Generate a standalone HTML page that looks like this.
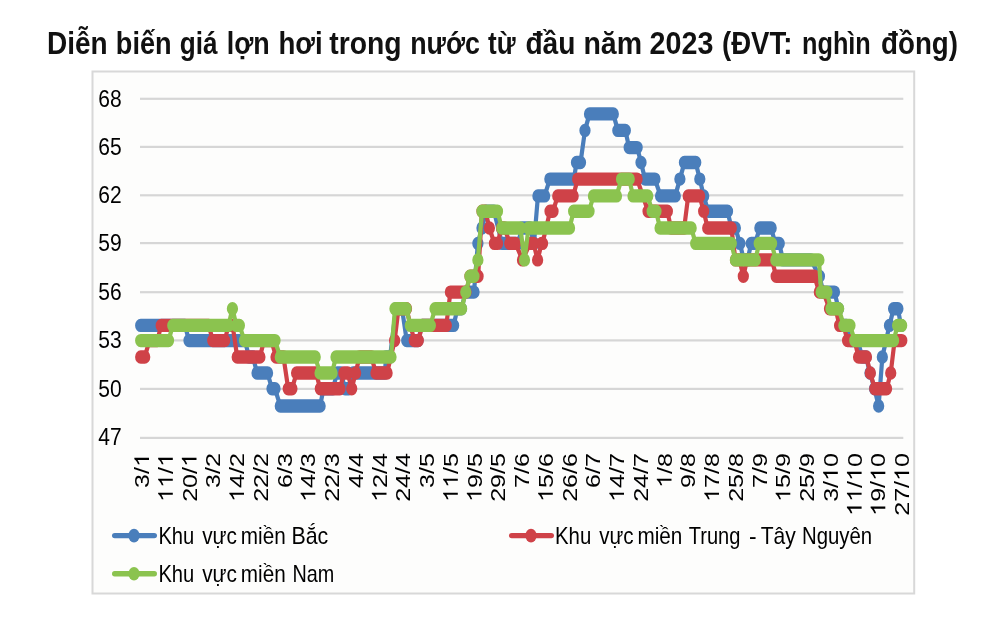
<!DOCTYPE html>
<html lang="vi"><head><meta charset="utf-8"><title>Diễn biến giá lợn hơi</title>
<style>
html,body{margin:0;padding:0;background:#fff;}
body{width:1000px;height:618px;overflow:hidden;font-family:"Liberation Sans",sans-serif;}
svg{display:block;will-change:transform;}
svg text{font-family:"Liberation Sans",sans-serif;}
</style></head><body>
<svg width="1000" height="618" viewBox="0 0 1000 618">
<rect x="92.5" y="71.5" width="821.7" height="522" fill="#fdfdfc" stroke="#d8d8d8" stroke-width="2"/>
<rect x="140" y="436.8" width="763.3" height="2.2" fill="#d6d6d6"/>
<rect x="140" y="387.8" width="763.3" height="2.2" fill="#d6d6d6"/>
<rect x="140" y="339.3" width="763.3" height="2.2" fill="#d6d6d6"/>
<rect x="140" y="291.1" width="763.3" height="2.2" fill="#d6d6d6"/>
<rect x="140" y="242.0" width="763.3" height="2.2" fill="#d6d6d6"/>
<rect x="140" y="194.2" width="763.3" height="2.2" fill="#d6d6d6"/>
<rect x="140" y="145.8" width="763.3" height="2.2" fill="#d6d6d6"/>
<rect x="140" y="97.7" width="763.3" height="2.2" fill="#d6d6d6"/>
<text x="98.2" y="445.3" font-size="24.7" font-weight="normal" text-anchor="start" fill="#000" textLength="23.4" lengthAdjust="spacingAndGlyphs">47</text>
<text x="98.2" y="396.9" font-size="24.7" font-weight="normal" text-anchor="start" fill="#000" textLength="23.4" lengthAdjust="spacingAndGlyphs">50</text>
<text x="98.2" y="348.4" font-size="24.7" font-weight="normal" text-anchor="start" fill="#000" textLength="23.4" lengthAdjust="spacingAndGlyphs">53</text>
<text x="98.2" y="300.2" font-size="24.7" font-weight="normal" text-anchor="start" fill="#000" textLength="23.4" lengthAdjust="spacingAndGlyphs">56</text>
<text x="98.2" y="251.1" font-size="24.7" font-weight="normal" text-anchor="start" fill="#000" textLength="23.4" lengthAdjust="spacingAndGlyphs">59</text>
<text x="98.2" y="203.3" font-size="24.7" font-weight="normal" text-anchor="start" fill="#000" textLength="23.4" lengthAdjust="spacingAndGlyphs">62</text>
<text x="98.2" y="154.9" font-size="24.7" font-weight="normal" text-anchor="start" fill="#000" textLength="23.4" lengthAdjust="spacingAndGlyphs">65</text>
<text x="98.2" y="106.8" font-size="24.7" font-weight="normal" text-anchor="start" fill="#000" textLength="23.4" lengthAdjust="spacingAndGlyphs">68</text>
<g transform="translate(149.0,453.0) rotate(-90) scale(1.213,1)" fill="#000"><text x="-28.77" y="0" font-size="20.7">3</text><text x="-17.26" y="0" font-size="20.7">/</text><path d="M763 0H583V1147Q518 1085 412.5 1023T223 930V1104Q373 1175 485.5 1276T645 1472H763Z" transform="translate(-11.51,0) scale(0.00996,-0.00996)"/></g>
<g transform="translate(172.8,453.0) rotate(-90) scale(1.213,1)" fill="#000"><path d="M763 0H583V1147Q518 1085 412.5 1023T223 930V1104Q373 1175 485.5 1276T645 1472H763Z" transform="translate(-40.28,0) scale(0.00996,-0.00996)"/><path d="M763 0H583V1147Q518 1085 412.5 1023T223 930V1104Q373 1175 485.5 1276T645 1472H763Z" transform="translate(-28.77,0) scale(0.00996,-0.00996)"/><text x="-17.26" y="0" font-size="20.7">/</text><path d="M763 0H583V1147Q518 1085 412.5 1023T223 930V1104Q373 1175 485.5 1276T645 1472H763Z" transform="translate(-11.51,0) scale(0.00996,-0.00996)"/></g>
<g transform="translate(196.5,453.0) rotate(-90) scale(1.213,1)" fill="#000"><text x="-40.28" y="0" font-size="20.7">2</text><text x="-28.77" y="0" font-size="20.7">0</text><text x="-17.26" y="0" font-size="20.7">/</text><path d="M763 0H583V1147Q518 1085 412.5 1023T223 930V1104Q373 1175 485.5 1276T645 1472H763Z" transform="translate(-11.51,0) scale(0.00996,-0.00996)"/></g>
<g transform="translate(220.3,453.0) rotate(-90) scale(1.213,1)" fill="#000"><text x="-28.77" y="0" font-size="20.7">3</text><text x="-17.26" y="0" font-size="20.7">/</text><text x="-11.51" y="0" font-size="20.7">2</text></g>
<g transform="translate(244.0,453.0) rotate(-90) scale(1.213,1)" fill="#000"><path d="M763 0H583V1147Q518 1085 412.5 1023T223 930V1104Q373 1175 485.5 1276T645 1472H763Z" transform="translate(-40.28,0) scale(0.00996,-0.00996)"/><text x="-28.77" y="0" font-size="20.7">4</text><text x="-17.26" y="0" font-size="20.7">/</text><text x="-11.51" y="0" font-size="20.7">2</text></g>
<g transform="translate(267.8,453.0) rotate(-90) scale(1.213,1)" fill="#000"><text x="-40.28" y="0" font-size="20.7">2</text><text x="-28.77" y="0" font-size="20.7">2</text><text x="-17.26" y="0" font-size="20.7">/</text><text x="-11.51" y="0" font-size="20.7">2</text></g>
<g transform="translate(291.5,453.0) rotate(-90) scale(1.213,1)" fill="#000"><text x="-28.77" y="0" font-size="20.7">6</text><text x="-17.26" y="0" font-size="20.7">/</text><text x="-11.51" y="0" font-size="20.7">3</text></g>
<g transform="translate(315.3,453.0) rotate(-90) scale(1.213,1)" fill="#000"><path d="M763 0H583V1147Q518 1085 412.5 1023T223 930V1104Q373 1175 485.5 1276T645 1472H763Z" transform="translate(-40.28,0) scale(0.00996,-0.00996)"/><text x="-28.77" y="0" font-size="20.7">4</text><text x="-17.26" y="0" font-size="20.7">/</text><text x="-11.51" y="0" font-size="20.7">3</text></g>
<g transform="translate(339.0,453.0) rotate(-90) scale(1.213,1)" fill="#000"><text x="-40.28" y="0" font-size="20.7">2</text><text x="-28.77" y="0" font-size="20.7">2</text><text x="-17.26" y="0" font-size="20.7">/</text><text x="-11.51" y="0" font-size="20.7">3</text></g>
<g transform="translate(362.8,453.0) rotate(-90) scale(1.213,1)" fill="#000"><text x="-28.77" y="0" font-size="20.7">4</text><text x="-17.26" y="0" font-size="20.7">/</text><text x="-11.51" y="0" font-size="20.7">4</text></g>
<g transform="translate(386.5,453.0) rotate(-90) scale(1.213,1)" fill="#000"><path d="M763 0H583V1147Q518 1085 412.5 1023T223 930V1104Q373 1175 485.5 1276T645 1472H763Z" transform="translate(-40.28,0) scale(0.00996,-0.00996)"/><text x="-28.77" y="0" font-size="20.7">2</text><text x="-17.26" y="0" font-size="20.7">/</text><text x="-11.51" y="0" font-size="20.7">4</text></g>
<g transform="translate(410.3,453.0) rotate(-90) scale(1.213,1)" fill="#000"><text x="-40.28" y="0" font-size="20.7">2</text><text x="-28.77" y="0" font-size="20.7">4</text><text x="-17.26" y="0" font-size="20.7">/</text><text x="-11.51" y="0" font-size="20.7">4</text></g>
<g transform="translate(434.0,453.0) rotate(-90) scale(1.213,1)" fill="#000"><text x="-28.77" y="0" font-size="20.7">3</text><text x="-17.26" y="0" font-size="20.7">/</text><text x="-11.51" y="0" font-size="20.7">5</text></g>
<g transform="translate(457.8,453.0) rotate(-90) scale(1.213,1)" fill="#000"><path d="M763 0H583V1147Q518 1085 412.5 1023T223 930V1104Q373 1175 485.5 1276T645 1472H763Z" transform="translate(-40.28,0) scale(0.00996,-0.00996)"/><path d="M763 0H583V1147Q518 1085 412.5 1023T223 930V1104Q373 1175 485.5 1276T645 1472H763Z" transform="translate(-28.77,0) scale(0.00996,-0.00996)"/><text x="-17.26" y="0" font-size="20.7">/</text><text x="-11.51" y="0" font-size="20.7">5</text></g>
<g transform="translate(481.5,453.0) rotate(-90) scale(1.213,1)" fill="#000"><path d="M763 0H583V1147Q518 1085 412.5 1023T223 930V1104Q373 1175 485.5 1276T645 1472H763Z" transform="translate(-40.28,0) scale(0.00996,-0.00996)"/><text x="-28.77" y="0" font-size="20.7">9</text><text x="-17.26" y="0" font-size="20.7">/</text><text x="-11.51" y="0" font-size="20.7">5</text></g>
<g transform="translate(505.3,453.0) rotate(-90) scale(1.213,1)" fill="#000"><text x="-40.28" y="0" font-size="20.7">2</text><text x="-28.77" y="0" font-size="20.7">9</text><text x="-17.26" y="0" font-size="20.7">/</text><text x="-11.51" y="0" font-size="20.7">5</text></g>
<g transform="translate(529.0,453.0) rotate(-90) scale(1.213,1)" fill="#000"><text x="-28.77" y="0" font-size="20.7">7</text><text x="-17.26" y="0" font-size="20.7">/</text><text x="-11.51" y="0" font-size="20.7">6</text></g>
<g transform="translate(552.8,453.0) rotate(-90) scale(1.213,1)" fill="#000"><path d="M763 0H583V1147Q518 1085 412.5 1023T223 930V1104Q373 1175 485.5 1276T645 1472H763Z" transform="translate(-40.28,0) scale(0.00996,-0.00996)"/><text x="-28.77" y="0" font-size="20.7">5</text><text x="-17.26" y="0" font-size="20.7">/</text><text x="-11.51" y="0" font-size="20.7">6</text></g>
<g transform="translate(576.5,453.0) rotate(-90) scale(1.213,1)" fill="#000"><text x="-40.28" y="0" font-size="20.7">2</text><text x="-28.77" y="0" font-size="20.7">6</text><text x="-17.26" y="0" font-size="20.7">/</text><text x="-11.51" y="0" font-size="20.7">6</text></g>
<g transform="translate(600.3,453.0) rotate(-90) scale(1.213,1)" fill="#000"><text x="-28.77" y="0" font-size="20.7">6</text><text x="-17.26" y="0" font-size="20.7">/</text><text x="-11.51" y="0" font-size="20.7">7</text></g>
<g transform="translate(624.0,453.0) rotate(-90) scale(1.213,1)" fill="#000"><path d="M763 0H583V1147Q518 1085 412.5 1023T223 930V1104Q373 1175 485.5 1276T645 1472H763Z" transform="translate(-40.28,0) scale(0.00996,-0.00996)"/><text x="-28.77" y="0" font-size="20.7">4</text><text x="-17.26" y="0" font-size="20.7">/</text><text x="-11.51" y="0" font-size="20.7">7</text></g>
<g transform="translate(647.8,453.0) rotate(-90) scale(1.213,1)" fill="#000"><text x="-40.28" y="0" font-size="20.7">2</text><text x="-28.77" y="0" font-size="20.7">4</text><text x="-17.26" y="0" font-size="20.7">/</text><text x="-11.51" y="0" font-size="20.7">7</text></g>
<g transform="translate(671.5,453.0) rotate(-90) scale(1.213,1)" fill="#000"><path d="M763 0H583V1147Q518 1085 412.5 1023T223 930V1104Q373 1175 485.5 1276T645 1472H763Z" transform="translate(-28.77,0) scale(0.00996,-0.00996)"/><text x="-17.26" y="0" font-size="20.7">/</text><text x="-11.51" y="0" font-size="20.7">8</text></g>
<g transform="translate(695.3,453.0) rotate(-90) scale(1.213,1)" fill="#000"><text x="-28.77" y="0" font-size="20.7">9</text><text x="-17.26" y="0" font-size="20.7">/</text><text x="-11.51" y="0" font-size="20.7">8</text></g>
<g transform="translate(719.0,453.0) rotate(-90) scale(1.213,1)" fill="#000"><path d="M763 0H583V1147Q518 1085 412.5 1023T223 930V1104Q373 1175 485.5 1276T645 1472H763Z" transform="translate(-40.28,0) scale(0.00996,-0.00996)"/><text x="-28.77" y="0" font-size="20.7">7</text><text x="-17.26" y="0" font-size="20.7">/</text><text x="-11.51" y="0" font-size="20.7">8</text></g>
<g transform="translate(742.8,453.0) rotate(-90) scale(1.213,1)" fill="#000"><text x="-40.28" y="0" font-size="20.7">2</text><text x="-28.77" y="0" font-size="20.7">5</text><text x="-17.26" y="0" font-size="20.7">/</text><text x="-11.51" y="0" font-size="20.7">8</text></g>
<g transform="translate(766.6,453.0) rotate(-90) scale(1.213,1)" fill="#000"><text x="-28.77" y="0" font-size="20.7">7</text><text x="-17.26" y="0" font-size="20.7">/</text><text x="-11.51" y="0" font-size="20.7">9</text></g>
<g transform="translate(790.3,453.0) rotate(-90) scale(1.213,1)" fill="#000"><path d="M763 0H583V1147Q518 1085 412.5 1023T223 930V1104Q373 1175 485.5 1276T645 1472H763Z" transform="translate(-40.28,0) scale(0.00996,-0.00996)"/><text x="-28.77" y="0" font-size="20.7">5</text><text x="-17.26" y="0" font-size="20.7">/</text><text x="-11.51" y="0" font-size="20.7">9</text></g>
<g transform="translate(814.1,453.0) rotate(-90) scale(1.213,1)" fill="#000"><text x="-40.28" y="0" font-size="20.7">2</text><text x="-28.77" y="0" font-size="20.7">5</text><text x="-17.26" y="0" font-size="20.7">/</text><text x="-11.51" y="0" font-size="20.7">9</text></g>
<g transform="translate(837.8,453.0) rotate(-90) scale(1.213,1)" fill="#000"><text x="-40.28" y="0" font-size="20.7">3</text><text x="-28.77" y="0" font-size="20.7">/</text><path d="M763 0H583V1147Q518 1085 412.5 1023T223 930V1104Q373 1175 485.5 1276T645 1472H763Z" transform="translate(-23.02,0) scale(0.00996,-0.00996)"/><text x="-11.51" y="0" font-size="20.7">0</text></g>
<g transform="translate(861.6,453.0) rotate(-90) scale(1.213,1)" fill="#000"><path d="M763 0H583V1147Q518 1085 412.5 1023T223 930V1104Q373 1175 485.5 1276T645 1472H763Z" transform="translate(-51.79,0) scale(0.00996,-0.00996)"/><path d="M763 0H583V1147Q518 1085 412.5 1023T223 930V1104Q373 1175 485.5 1276T645 1472H763Z" transform="translate(-40.28,0) scale(0.00996,-0.00996)"/><text x="-28.77" y="0" font-size="20.7">/</text><path d="M763 0H583V1147Q518 1085 412.5 1023T223 930V1104Q373 1175 485.5 1276T645 1472H763Z" transform="translate(-23.02,0) scale(0.00996,-0.00996)"/><text x="-11.51" y="0" font-size="20.7">0</text></g>
<g transform="translate(885.3,453.0) rotate(-90) scale(1.213,1)" fill="#000"><path d="M763 0H583V1147Q518 1085 412.5 1023T223 930V1104Q373 1175 485.5 1276T645 1472H763Z" transform="translate(-51.79,0) scale(0.00996,-0.00996)"/><text x="-40.28" y="0" font-size="20.7">9</text><text x="-28.77" y="0" font-size="20.7">/</text><path d="M763 0H583V1147Q518 1085 412.5 1023T223 930V1104Q373 1175 485.5 1276T645 1472H763Z" transform="translate(-23.02,0) scale(0.00996,-0.00996)"/><text x="-11.51" y="0" font-size="20.7">0</text></g>
<g transform="translate(909.1,453.0) rotate(-90) scale(1.213,1)" fill="#000"><text x="-51.79" y="0" font-size="20.7">2</text><text x="-40.28" y="0" font-size="20.7">7</text><text x="-28.77" y="0" font-size="20.7">/</text><path d="M763 0H583V1147Q518 1085 412.5 1023T223 930V1104Q373 1175 485.5 1276T645 1472H763Z" transform="translate(-23.02,0) scale(0.00996,-0.00996)"/><text x="-11.51" y="0" font-size="20.7">0</text></g>
<g transform="scale(0.84,1)" fill="none" stroke="#4a7ebb" stroke-linejoin="round" stroke-linecap="round"><path d="M167.5 325.4 L220.2 325.4 L225.0 340.6 L291.7 340.6 L296.4 357.0 L301.2 357.0 L306.0 373.0 L318.5 373.0 L323.8 388.8 L327.4 388.8 L333.7 406.0 L381.1 406.0 L385.1 388.8 L396.4 388.8 L401.2 373.0 L406.0 373.0 L410.7 388.8 L415.5 388.8 L420.2 373.0 L458.3 373.0 L459.5 357.0 L464.3 357.0 L471.4 308.7 L478.6 308.7 L484.2 340.6 L497.6 340.6 L502.4 325.4 L540.0 325.4 L544.6 308.7 L549.4 308.7 L554.2 292.1 L564.3 292.1 L568.9 243.4 L573.8 228.0 L578.6 211.3 L588.1 211.3 L597.6 243.4 L616.7 243.4 L621.4 228.0 L631.0 228.0 L635.7 243.4 L640.4 195.9 L648.3 195.9 L654.6 179.1 L683.3 179.1 L686.3 162.5 L691.1 162.5 L696.4 130.4 L701.8 113.9 L730.1 113.9 L735.5 130.4 L744.4 130.4 L749.0 147.6 L758.6 147.6 L763.1 162.5 L767.9 179.1 L779.6 179.1 L786.4 195.9 L803.9 195.9 L809.4 179.1 L814.8 162.5 L828.2 162.5 L833.1 179.1 L837.7 195.9 L843.1 211.3 L866.1 211.3 L870.8 228.0 L875.5 228.0 L880.8 243.4 L885.5 259.9 L889.9 259.9 L894.3 243.4 L898.8 243.4 L904.6 228.0 L918.1 228.0 L922.9 243.4 L927.6 243.4 L932.1 259.9 L965.5 259.9 L975.5 276.3 L980.2 292.1 L993.5 292.1 L998.2 308.7 L1003.0 325.4 L1007.7 325.4 L1012.5 340.6 L1021.4 340.6 L1026.2 357.0 L1031.0 357.0 L1035.7 373.0 L1041.1 388.8 L1046.0 406.0 L1050.4 357.0 L1054.8 340.6 L1058.9 325.4 L1063.8 308.7 L1068.9 308.7 L1072.6 325.4" stroke-width="5.0"/><path d="M167.5 325.4h52.74 M225.0 340.6h66.67 M296.4 357.0h4.76 M306.0 373.0h12.50 M323.8 388.8h3.57 M333.7 406.0h47.38 M385.1 388.8h11.31 M401.2 373.0h4.76 M410.7 388.8h4.76 M420.2 373.0h38.10 M459.5 357.0h4.76 M471.4 308.7h7.14 M484.2 340.6h13.45 M502.4 325.4h37.62 M544.6 308.7h4.76 M554.2 292.1h10.12 M568.9 243.4h0.01 M573.8 228.0h0.01 M578.6 211.3h9.52 M597.6 243.4h19.05 M621.4 228.0h9.52 M635.7 243.4h0.01 M640.4 195.9h7.98 M654.6 179.1h28.69 M686.3 162.5h4.76 M696.4 130.4h0.01 M701.8 113.9h28.33 M735.5 130.4h8.93 M749.0 147.6h9.52 M763.1 162.5h0.01 M767.9 179.1h11.79 M786.4 195.9h17.50 M809.4 179.1h0.01 M814.8 162.5h13.45 M833.1 179.1h0.01 M837.7 195.9h0.01 M843.1 211.3h22.98 M870.8 228.0h4.64 M880.8 243.4h0.01 M885.5 259.9h4.40 M894.3 243.4h4.52 M904.6 228.0h13.45 M922.9 243.4h4.76 M932.1 259.9h33.33 M975.5 276.3h0.01 M980.2 292.1h13.21 M998.2 308.7h0.01 M1003.0 325.4h4.76 M1012.5 340.6h8.93 M1026.2 357.0h4.76 M1035.7 373.0h0.01 M1041.1 388.8h0.01 M1046.0 406.0h0.01 M1050.4 357.0h0.01 M1054.8 340.6h0.01 M1058.9 325.4h0.01 M1063.8 308.7h5.12 M1072.6 325.4h0.01" stroke-width="13.4"/></g>
<g transform="scale(0.84,1)" fill="none" stroke="#cf4248" stroke-linejoin="round" stroke-linecap="round"><path d="M167.5 357.0 L172.3 357.0 L177.9 340.6 L187.3 340.6 L191.9 325.4 L248.6 325.4 L253.3 340.6 L267.5 340.6 L272.1 325.4 L276.9 325.4 L282.4 357.0 L309.4 357.0 L314.3 340.6 L323.2 340.6 L328.6 357.0 L337.5 357.0 L343.1 388.8 L347.5 388.8 L353.1 373.0 L376.2 373.0 L381.3 388.8 L404.8 388.8 L409.3 373.0 L413.9 373.0 L418.7 388.8 L423.3 373.0 L428.0 357.0 L442.1 357.0 L447.6 373.0 L460.8 373.0 L469.8 340.6 L474.4 308.7 L483.9 308.7 L493.2 340.6 L498.0 340.6 L502.7 325.4 L531.3 325.4 L536.2 292.1 L554.8 292.1 L559.5 276.3 L569.2 276.3 L573.8 211.3 L577.9 211.3 L582.6 228.0 L588.6 243.4 L592.3 243.4 L597.0 228.0 L600.6 228.0 L606.9 243.4 L613.7 243.4 L622.0 259.9 L631.0 243.4 L635.2 243.4 L640.0 259.9 L644.8 243.4 L645.8 243.4 L654.8 211.3 L658.3 211.3 L664.0 195.9 L682.4 195.9 L687.7 179.1 L758.5 179.1 L771.5 211.3 L794.5 211.3 L798.8 228.0 L814.5 228.0 L819.3 195.9 L832.9 195.9 L837.7 211.3 L842.5 228.0 L870.6 228.0 L875.6 259.9 L880.4 259.9 L884.9 276.3 L889.3 259.9 L919.0 259.9 L924.0 276.3 L969.5 276.3 L975.4 292.1 L980.1 292.1 L987.5 308.7 L994.6 308.7 L999.5 325.4 L1004.2 325.4 L1009.0 340.6 L1017.3 340.6 L1022.1 357.0 L1031.5 357.0 L1036.1 373.0 L1041.4 388.8 L1055.5 388.8 L1060.4 373.0 L1065.0 340.6 L1073.6 340.6" stroke-width="5.0"/><path d="M167.5 357.0h4.76 M177.9 340.6h9.40 M191.9 325.4h56.67 M253.3 340.6h14.17 M272.1 325.4h4.76 M282.4 357.0h27.02 M314.3 340.6h8.93 M328.6 357.0h8.93 M343.1 388.8h4.40 M353.1 373.0h23.10 M381.3 388.8h23.45 M409.3 373.0h4.64 M418.7 388.8h0.01 M423.3 373.0h0.01 M428.0 357.0h14.17 M447.6 373.0h13.21 M469.8 340.6h0.01 M474.4 308.7h9.52 M493.2 340.6h4.76 M502.7 325.4h28.57 M536.2 292.1h18.57 M559.5 276.3h9.64 M573.8 211.3h4.05 M582.6 228.0h0.01 M588.6 243.4h3.69 M597.0 228.0h3.57 M606.9 243.4h6.79 M622.0 259.9h0.01 M631.0 243.4h4.29 M640.0 259.9h0.01 M644.8 243.4h1.07 M654.8 211.3h3.57 M664.0 195.9h18.33 M687.7 179.1h70.71 M771.5 211.3h22.98 M798.8 228.0h15.71 M819.3 195.9h13.57 M837.7 211.3h0.01 M842.5 228.0h28.10 M875.6 259.9h4.76 M884.9 276.3h0.01 M889.3 259.9h29.76 M924.0 276.3h45.48 M975.4 292.1h4.76 M987.5 308.7h7.14 M999.5 325.4h4.64 M1009.0 340.6h8.21 M1022.1 357.0h9.40 M1036.1 373.0h0.01 M1041.4 388.8h14.05 M1060.4 373.0h0.01 M1065.0 340.6h8.57" stroke-width="13.4"/></g>
<g transform="scale(0.84,1)" fill="none" stroke="#8bc34f" stroke-linejoin="round" stroke-linecap="round"><path d="M167.5 340.6 L200.6 340.6 L205.7 325.4 L272.0 325.4 L276.7 308.7 L281.4 325.4 L285.0 325.4 L291.1 340.6 L327.4 340.6 L333.7 357.0 L375.2 357.0 L381.0 373.0 L395.2 373.0 L400.0 357.0 L465.5 357.0 L470.2 308.7 L483.7 308.7 L488.5 325.4 L512.3 325.4 L517.9 308.7 L549.5 308.7 L554.5 292.1 L559.5 276.3 L564.3 276.3 L568.9 259.9 L573.8 211.3 L592.3 211.3 L597.3 228.0 L619.5 228.0 L624.4 259.9 L629.2 228.0 L678.0 228.0 L682.9 211.3 L701.2 211.3 L706.5 195.9 L733.9 195.9 L739.9 179.1 L749.0 179.1 L753.6 195.9 L771.1 195.9 L776.4 211.3 L781.0 211.3 L785.8 228.0 L822.9 228.0 L828.2 243.4 L870.6 243.4 L875.5 259.9 L899.2 259.9 L903.8 243.4 L918.6 243.4 L923.6 259.9 L974.9 259.9 L977.6 292.1 L984.4 292.1 L989.2 308.7 L998.3 308.7 L1004.6 325.4 L1011.9 325.4 L1017.6 340.6 L1063.8 340.6 L1068.6 325.4 L1073.3 325.4" stroke-width="5.0"/><path d="M167.5 340.6h33.10 M205.7 325.4h66.31 M276.7 308.7h0.01 M281.4 325.4h3.57 M291.1 340.6h36.31 M333.7 357.0h41.55 M381.0 373.0h14.29 M400.0 357.0h65.48 M470.2 308.7h13.45 M488.5 325.4h23.81 M517.9 308.7h31.67 M554.5 292.1h0.01 M559.5 276.3h4.76 M568.9 259.9h0.01 M573.8 211.3h18.45 M597.3 228.0h22.26 M624.4 259.9h0.01 M629.2 228.0h48.81 M682.9 211.3h18.33 M706.5 195.9h27.38 M739.9 179.1h9.17 M753.6 195.9h17.50 M776.4 211.3h4.52 M785.8 228.0h37.02 M828.2 243.4h42.38 M875.5 259.9h23.69 M903.8 243.4h14.76 M923.6 259.9h51.31 M977.6 292.1h6.79 M989.2 308.7h9.17 M1004.6 325.4h7.26 M1017.6 340.6h46.19 M1068.6 325.4h4.76" stroke-width="13.4"/></g>
<line x1="114.7" y1="535.6" x2="154.3" y2="535.6" stroke="#4a7ebb" stroke-width="5.4" stroke-linecap="round"/><ellipse cx="134" cy="535.6" rx="5.65" ry="6.8" fill="#4a7ebb"/><text x="158.4" y="543.5" font-size="23.8" font-weight="normal" text-anchor="start" fill="#000" textLength="35.9" lengthAdjust="spacingAndGlyphs">Khu</text><text x="202.2" y="543.5" font-size="23.8" font-weight="normal" text-anchor="start" fill="#000" textLength="34.8" lengthAdjust="spacingAndGlyphs">vực</text><text x="240.8" y="543.5" font-size="23.8" font-weight="normal" text-anchor="start" fill="#000" textLength="44.9" lengthAdjust="spacingAndGlyphs">miền</text><text x="291.4" y="543.5" font-size="23.8" font-weight="normal" text-anchor="start" fill="#000" textLength="36.8" lengthAdjust="spacingAndGlyphs">Bắc</text>
<line x1="114.7" y1="573.7" x2="154.3" y2="573.7" stroke="#8bc34f" stroke-width="5.4" stroke-linecap="round"/><ellipse cx="134" cy="573.7" rx="5.65" ry="6.8" fill="#8bc34f"/><text x="158.4" y="581.6" font-size="23.8" font-weight="normal" text-anchor="start" fill="#000" textLength="35.9" lengthAdjust="spacingAndGlyphs">Khu</text><text x="202.2" y="581.6" font-size="23.8" font-weight="normal" text-anchor="start" fill="#000" textLength="34.8" lengthAdjust="spacingAndGlyphs">vực</text><text x="240.8" y="581.6" font-size="23.8" font-weight="normal" text-anchor="start" fill="#000" textLength="44.9" lengthAdjust="spacingAndGlyphs">miền</text><text x="292.4" y="581.6" font-size="23.8" font-weight="normal" text-anchor="start" fill="#000" textLength="41.8" lengthAdjust="spacingAndGlyphs">Nam</text>
<line x1="511.7" y1="535.6" x2="551.3" y2="535.6" stroke="#cf4248" stroke-width="5.4" stroke-linecap="round"/><ellipse cx="531" cy="535.6" rx="5.65" ry="6.8" fill="#cf4248"/><text x="555.0" y="543.5" font-size="23.8" font-weight="normal" text-anchor="start" fill="#000" textLength="36.3" lengthAdjust="spacingAndGlyphs">Khu</text><text x="599.2" y="543.5" font-size="23.8" font-weight="normal" text-anchor="start" fill="#000" textLength="34.4" lengthAdjust="spacingAndGlyphs">vực</text><text x="637.4" y="543.5" font-size="23.8" font-weight="normal" text-anchor="start" fill="#000" textLength="44.9" lengthAdjust="spacingAndGlyphs">miền</text><text x="688.7" y="543.5" font-size="23.8" font-weight="normal" text-anchor="start" fill="#000" textLength="51.7" lengthAdjust="spacingAndGlyphs">Trung</text><text x="749.0" y="543.5" font-size="23.8" font-weight="normal" text-anchor="start" fill="#000" textLength="7.6" lengthAdjust="spacingAndGlyphs">-</text><text x="760.7" y="543.5" font-size="23.8" font-weight="normal" text-anchor="start" fill="#000" textLength="35.1" lengthAdjust="spacingAndGlyphs">Tây</text><text x="802.0" y="543.5" font-size="23.8" font-weight="normal" text-anchor="start" fill="#000" textLength="70.2" lengthAdjust="spacingAndGlyphs">Nguyên</text>
<text x="47" y="53.5" font-size="30.5" font-weight="bold" text-anchor="start" fill="#111" textLength="60.6" lengthAdjust="spacingAndGlyphs">Diễn</text>
<text x="115.8" y="53.5" font-size="30.5" font-weight="bold" text-anchor="start" fill="#111" textLength="55.8" lengthAdjust="spacingAndGlyphs">biến</text>
<text x="179.8" y="53.5" font-size="30.5" font-weight="bold" text-anchor="start" fill="#111" textLength="37.8" lengthAdjust="spacingAndGlyphs">giá</text>
<text x="226.8" y="53.5" font-size="30.5" font-weight="bold" text-anchor="start" fill="#111" textLength="43.0" lengthAdjust="spacingAndGlyphs">lợn</text>
<text x="278.4" y="53.5" font-size="30.5" font-weight="bold" text-anchor="start" fill="#111" textLength="44.2" lengthAdjust="spacingAndGlyphs">hơi</text>
<text x="329.2" y="53.5" font-size="30.5" font-weight="bold" text-anchor="start" fill="#111" textLength="72.4" lengthAdjust="spacingAndGlyphs">trong</text>
<text x="410.2" y="53.5" font-size="30.5" font-weight="bold" text-anchor="start" fill="#111" textLength="69.8" lengthAdjust="spacingAndGlyphs">nước</text>
<text x="488" y="53.5" font-size="30.5" font-weight="bold" text-anchor="start" fill="#111" textLength="27.6" lengthAdjust="spacingAndGlyphs">từ</text>
<text x="525.4" y="53.5" font-size="30.5" font-weight="bold" text-anchor="start" fill="#111" textLength="50.0" lengthAdjust="spacingAndGlyphs">đầu</text>
<text x="583.4" y="53.5" font-size="30.5" font-weight="bold" text-anchor="start" fill="#111" textLength="58.6" lengthAdjust="spacingAndGlyphs">năm</text>
<text x="649.6" y="53.5" font-size="30.5" font-weight="bold" text-anchor="start" fill="#111" textLength="63.8" lengthAdjust="spacingAndGlyphs">2023</text>
<text x="722" y="53.5" font-size="30.5" font-weight="bold" text-anchor="start" fill="#111" textLength="70.4" lengthAdjust="spacingAndGlyphs">(ĐVT:</text>
<text x="802" y="53.5" font-size="30.5" font-weight="bold" text-anchor="start" fill="#111" textLength="68.8" lengthAdjust="spacingAndGlyphs">nghìn</text>
<text x="881" y="53.5" font-size="30.5" font-weight="bold" text-anchor="start" fill="#111" textLength="77" lengthAdjust="spacingAndGlyphs">đồng)</text>
</svg>
</body></html>
